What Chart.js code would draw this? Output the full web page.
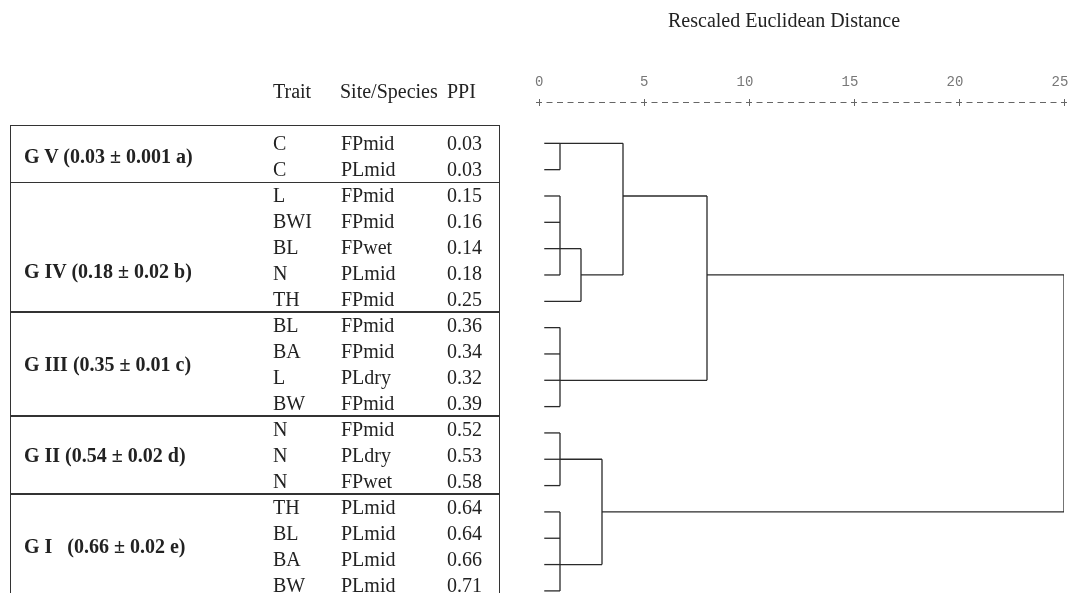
<!DOCTYPE html>
<html>
<head>
<meta charset="utf-8">
<script src="https://cdn.jsdelivr.net/npm/chart.js@4.4.1/dist/chart.umd.min.js"></script>
<style>
  body { margin: 0; background: #fff; }
  #wrap { position: relative; width: 1071px; height: 593px; overflow: hidden; font-family: "Liberation Serif", serif; color: #222; }
  #chart { position: absolute; left: 0; top: 0; }
  .txt { position: absolute; font-size: 20px; line-height: 20px; white-space: pre; transform: translateY(-50%); }
  .grp { font-weight: bold; }
  .rule { position: absolute; background: #333; }
  .box { position: absolute; border: 1.5px solid #333; box-sizing: border-box; }
</style>
</head>
<body>
<div id="wrap">
  <canvas id="chart" width="1071" height="593"></canvas>
</div>
<script>
// ---- data ----
const traits = ["C", "C", "L", "BWI", "BL", "N", "TH", "BL", "BA", "L", "BW", "N", "N", "N", "TH", "BL", "BA", "BW"];
const sites = ["FPmid", "PLmid", "FPmid", "FPmid", "FPwet", "PLmid", "FPmid", "FPmid", "FPmid", "PLdry", "FPmid",
               "FPmid", "PLdry", "FPwet", "PLmid", "PLmid", "PLmid", "PLmid"];
const ppi = ["0.03", "0.03", "0.15", "0.16", "0.14", "0.18", "0.25", "0.36", "0.34", "0.32", "0.39",
             "0.52", "0.53", "0.58", "0.64", "0.64", "0.66", "0.71"];
const groupNames = ["G V (0.03 \u00b1 0.001 a)", "G IV (0.18 \u00b1 0.02 b)", "G III (0.35 \u00b1 0.01 c)",
                    "G II (0.54 \u00b1 0.02 d)", "G I   (0.66 \u00b1 0.02 e)"];
const groupFirstRow = [0, 2, 7, 11, 14];
const groupLabelRow = [0.5, 4.9, 8.5, 12, 15.5];
const distTicks = [0, 5, 10, 15, 20, 25];

// clusters: nodes 0..17 are the leaves, every merge makes node 18, 19, ...
const mergeKids = [[0, 1], [2, 3, 4, 5], [19, 6], [18, 20], [7, 8, 9, 10],
                   [21, 22], [11, 12, 13], [14, 15, 16, 17], [24, 25], [23, 26]];
const mergeDist = [1, 1, 2, 4, 1, 8, 1, 1, 3, 25];
const mergeRow = [0, 4, 5, 2, 9, 5, 12, 16, 14, 5];   // row the joined branch leaves from
const LEAF_DIST = 0.25;

// ---- build the dendrogram segments ----
const nodeX = traits.map(() => LEAF_DIST);
const nodeRow = traits.map((t, i) => i);
const segments = [];
mergeKids.forEach((kids, m) => {
  const d = mergeDist[m];
  const rows = kids.map(k => nodeRow[k]);
  kids.forEach(k => segments.push([{x: nodeX[k], y: nodeRow[k]}, {x: d, y: nodeRow[k]}]));
  segments.push([{x: d, y: Math.min(...rows)}, {x: d, y: Math.max(...rows)}]);
  nodeX.push(d);
  nodeRow.push(mergeRow[m]);
});

const datasets = segments.map(s => ({
  data: s,
  borderColor: "#2a2a2a",
  borderWidth: 1.3,
  pointRadius: 0,
  fill: false,
  tension: 0
}));

// the "+---------+" scale line, SPSS style
const dashedScale = {
  id: "dashedScale",
  afterDraw(chart) {
    const xs = chart.scales.x;
    const c = chart.ctx;
    const y = Math.round(xs.bottom) + 0.5;
    c.save();
    c.strokeStyle = "#666";
    c.lineWidth = 1;
    for (let v = xs.min; v <= xs.max + 1e-9; v += 0.5) {
      const x = xs.getPixelForValue(v);
      c.beginPath();
      c.moveTo(x - 3, y);
      c.lineTo(x + 3, y);
      c.stroke();
    }
    xs.ticks.forEach(t => {
      const x = Math.round(xs.getPixelForValue(t.value)) + 0.5;
      c.beginPath();
      c.moveTo(x, y - 3.5);
      c.lineTo(x, y + 3.5);
      c.stroke();
    });
    c.restore();
  }
};

const chart = new Chart(document.getElementById("chart"), {
  type: "line",
  data: { datasets },
  options: {
    responsive: false,
    animation: false,
    events: [],
    layout: { padding: { left: 539, right: 7, top: 73.6, bottom: 0 } },
    plugins: { legend: { display: false }, tooltip: { enabled: false } },
    scales: {
      x: {
        type: "linear",
        position: "top",
        min: 0,
        max: 25,
        afterBuildTicks: axis => { axis.ticks = distTicks.map(v => ({ value: v })); },
        grid: { display: false, drawTicks: true, tickLength: 11.6 },
        border: { display: false },
        ticks: {
          align: "end",
          labelOffset: 4.3,
          padding: 0,
          color: "#777",
          font: { family: "Liberation Mono", size: 14 }
        }
      },
      y: { type: "linear", display: false, reverse: true, min: -1.57, max: 17.08 }
    }
  },
  plugins: [dashedScale]
});

// ---- table on the left, lined up with the dendrogram rows ----
const wrap = document.getElementById("wrap");
const yS = chart.scales.y;
// the printed table rows sit a touch tighter than the tree leaves
const tableY = r => yS.getPixelForValue(r * 0.986);

function addText(str, left, top, cls) {
  const d = document.createElement("div");
  d.className = "txt" + (cls ? " " + cls : "");
  d.textContent = str;
  d.style.left = left + "px";
  d.style.top = top + "px";
  wrap.appendChild(d);
}

addText("Rescaled Euclidean Distance", 668, 20);
addText("Trait", 273, 91);
addText("Site/Species", 340, 91);
addText("PPI", 447, 91);

const box = document.createElement("div");
box.className = "box";
box.style.left = "10px";
box.style.width = "490px";
box.style.top = tableY(-0.7) + "px";
box.style.height = "700px";
wrap.appendChild(box);

groupFirstRow.slice(1).forEach(r => {
  const d = document.createElement("div");
  d.className = "rule";
  d.style.left = "10px";
  d.style.width = "490px";
  d.style.height = "1.5px";
  d.style.top = (tableY(r - 0.5) - 0.75) + "px";
  wrap.appendChild(d);
});

traits.forEach((t, i) => {
  const y = tableY(i);
  addText(t, 273, y);
  addText(sites[i], 341, y);
  addText(ppi[i], 447, y);
});

groupNames.forEach((g, i) => {
  addText(g, 24, tableY(groupLabelRow[i]), "grp");
});
</script>
</body>
</html>
